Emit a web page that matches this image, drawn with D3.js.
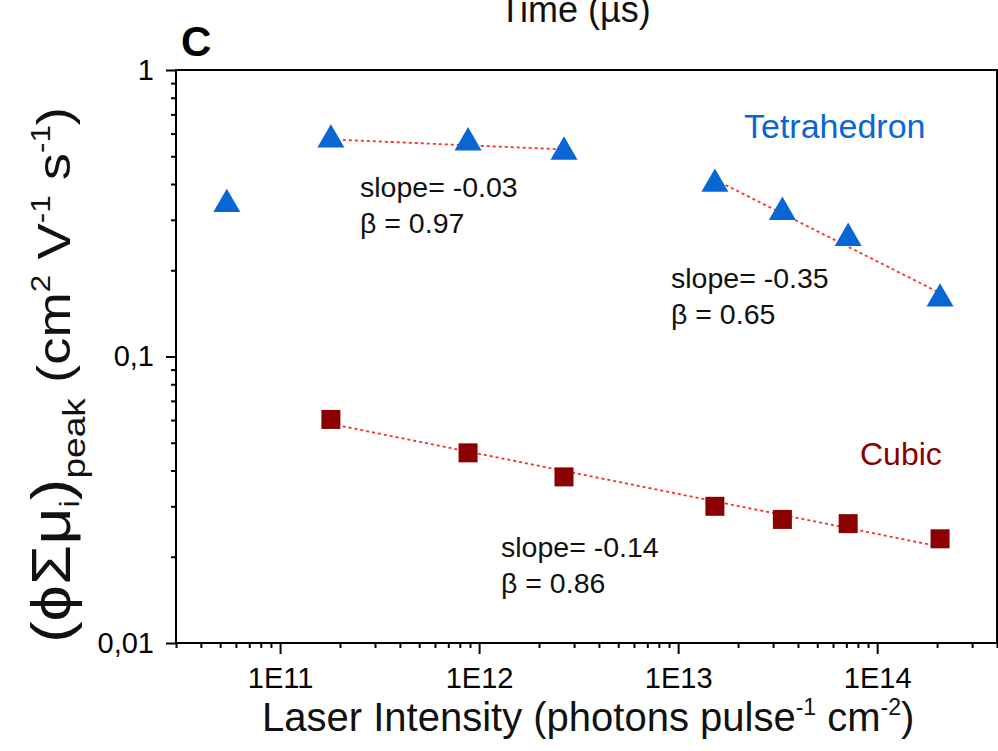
<!DOCTYPE html>
<html>
<head>
<meta charset="utf-8">
<script src="https://cdn.jsdelivr.net/npm/d3@7"></script>
<style>
  html, body { margin: 0; padding: 0; background: #fff; }
  svg text { font-family: "Liberation Sans", Arial, Helvetica, sans-serif; }
</style>
</head>
<body>
<svg id="chart" width="998" height="751"></svg>
<script>
// Laser intensity (photons pulse^-1 cm^-2) and peak photoconductivity
const tetraX = [5.4e10, 1.8e11, 8.8e11, 2.67e12, 1.53e13, 3.34e13, 7.15e13, 2.07e14];
const tetraY = [0.340, 0.571, 0.558, 0.518, 0.400, 0.319, 0.259, 0.159];
const cubicX = [1.8e11, 8.8e11, 2.67e12, 1.53e13, 3.34e13, 7.15e13, 2.07e14];
const cubicY = [0.0603, 0.0461, 0.0380, 0.0300, 0.0270, 0.0261, 0.0231];

// Power-law fits: index range into a series, stated slope and beta
const fitSeries = ["tetra", "tetra", "cubic"];
const fitFrom = [1, 4, 0];
const fitTo = [3, 7, 6];
const fitSlope = [-0.03, -0.35, -0.14];
const fitBeta = [0.97, 0.65, 0.86];

const xTickValues = [1e11, 1e12, 1e13, 1e14];
const xTickLabels = ["1E11", "1E12", "1E13", "1E14"];
const yTickValues = [0.01, 0.1, 1];
const yTickLabels = ["0,01", "0,1", "1"];

const blue = "#0867d2";
const maroon = "#8b0000";

const svg = d3.select("#chart");
const plotL = 176, plotR = 997, plotT = 70, plotB = 643;

const x = d3.scaleLog().domain([3e10, 4e14]).range([plotL, plotR]);
const y = d3.scaleLog().domain([0.01, 1]).range([plotB, plotT]);

// minor ticks 2..9 per decade
const xMinor = [];
for (let e = 10; e <= 14; e++) for (let m = 2; m <= 9; m++) {
  const v = m * Math.pow(10, e);
  if (v >= 3e10 && v <= 4e14) xMinor.push(v);
}
const yMinor = [];
for (let e = -2; e <= -1; e++) for (let m = 2; m <= 9; m++) yMinor.push(m * Math.pow(10, e));

// frame
svg.append("rect").attr("x", plotL).attr("y", plotT)
  .attr("width", plotR - plotL).attr("height", plotB - plotT)
  .attr("fill", "none").attr("stroke", "#000").attr("stroke-width", 2);

// x axis
const gx = svg.append("g").attr("transform", `translate(0,${plotB})`);
gx.append("g").call(d3.axisBottom(x).tickValues(xMinor).tickSize(5).tickFormat(""))
  .call(g => g.select(".domain").remove());
gx.append("g").call(d3.axisBottom(x).tickValues(xTickValues).tickSize(11)
    .tickFormat((d, i) => xTickLabels[i]).tickPadding(13))
  .call(g => g.select(".domain").remove());
gx.selectAll("line").attr("stroke", "#000").attr("stroke-width", 2);
gx.selectAll("text").attr("font-size", 29).attr("fill", "#000")
  .attr("font-family", "Liberation Sans, Arial, sans-serif");

// y axis
const gy = svg.append("g").attr("transform", `translate(${plotL},0)`);
gy.append("g").call(d3.axisLeft(y).tickValues(yMinor).tickSize(5).tickFormat(""))
  .call(g => g.select(".domain").remove());
gy.append("g").call(d3.axisLeft(y).tickValues(yTickValues).tickSize(10)
    .tickFormat((d, i) => yTickLabels[i]).tickPadding(12))
  .call(g => g.select(".domain").remove());
gy.selectAll("line").attr("stroke", "#000").attr("stroke-width", 2);
gy.selectAll("text").attr("font-size", 29).attr("fill", "#000")
  .attr("font-family", "Liberation Sans, Arial, sans-serif");

// fit lines (dotted red), drawn with the stated slope through the mean point
const seriesData = {
  tetra: tetraX.map((v, i) => [v, tetraY[i]]),
  cubic: cubicX.map((v, i) => [v, cubicY[i]])
};
fitSeries.forEach((s, k) => {
  const pts = seriesData[s].slice(fitFrom[k], fitTo[k] + 1);
  const mx = d3.mean(pts, p => Math.log10(p[0]));
  const my = d3.mean(pts, p => Math.log10(p[1]));
  const f = v => Math.pow(10, my + fitSlope[k] * (Math.log10(v) - mx));
  const x0 = pts[0][0], x1 = pts[pts.length - 1][0];
  svg.append("path")
    .attr("d", d3.line()([[x(x0), y(f(x0))], [x(x1), y(f(x1))]]))
    .attr("stroke", "#ff2a2a").attr("stroke-width", 1.8)
    .attr("stroke-dasharray", "3,3").attr("fill", "none");
});

// markers
svg.append("g").selectAll("path").data(seriesData.tetra).join("path")
  .attr("transform", d => `translate(${x(d[0])},${y(d[1])})`)
  .attr("d", d3.symbol().type(d3.symbolTriangle).size(316))
  .attr("fill", blue);
const sq = 19;
svg.append("g").selectAll("rect").data(seriesData.cubic).join("rect")
  .attr("x", d => x(d[0]) - sq / 2).attr("y", d => y(d[1]) - sq / 2)
  .attr("width", sq).attr("height", sq).attr("fill", maroon);

// annotations
const txt = (xp, yp, s, size, color) => svg.append("text")
  .attr("x", xp).attr("y", yp).attr("font-size", size).attr("fill", color || "#111").text(s);

txt(744, 138, "Tetrahedron", 34, blue);
txt(860, 465, "Cubic", 32, maroon);

const annX = [360, 671, 501];
const annY = [197, 288, 557];
fitSlope.forEach((s, k) => {
  txt(annX[k], annY[k], `slope= ${s.toFixed(2)}`, 28.5);
  txt(annX[k], annY[k] + 36, `β = ${fitBeta[k].toFixed(2)}`, 28.5);
});

// panel letter and the cut-off title of the panel above
svg.append("text").attr("x", 181).attr("y", 56).attr("font-size", 42)
  .attr("font-weight", "bold").attr("fill", "#000").text("C");
svg.append("text").attr("x", 575).attr("y", 22).attr("font-size", 36)
  .attr("text-anchor", "middle").attr("fill", "#111").text("Time (µs)");

// x axis title
const xl = svg.append("text").attr("x", 262).attr("y", 731)
  .attr("font-size", 40).attr("fill", "#111");
xl.append("tspan").text("Laser Intensity (photons pulse");
xl.append("tspan").attr("font-size", 23).attr("dy", -16).text("-1");
xl.append("tspan").attr("dy", 16).text(" cm");
xl.append("tspan").attr("font-size", 23).attr("dy", -16).text("-2");
xl.append("tspan").attr("dy", 16).text(")");

// y axis title (rotated, stretched along its length)
const yl = svg.append("text").attr("transform", "translate(70,643) rotate(-90) scale(1.16,1)")
  .attr("font-size", 56).attr("fill", "#111");
yl.append("tspan").text("(ϕΣμ");
yl.append("tspan").attr("font-size", 28).attr("dy", 9).text("i");
yl.append("tspan").attr("dy", -9).text(")");
yl.append("tspan").attr("font-size", 32).attr("dy", 15).text("peak");
yl.append("tspan").attr("font-size", 47).attr("dy", -15).text(" (cm");
yl.append("tspan").attr("font-size", 27).attr("dy", -20).text("2");
yl.append("tspan").attr("font-size", 47).attr("dy", 20).text(" V");
yl.append("tspan").attr("font-size", 27).attr("dy", -20).text("-1");
yl.append("tspan").attr("font-size", 47).attr("dy", 20).text(" s");
yl.append("tspan").attr("font-size", 27).attr("dy", -20).text("-1");
yl.append("tspan").attr("font-size", 47).attr("dy", 20).text(")");
</script>
</body>
</html>
